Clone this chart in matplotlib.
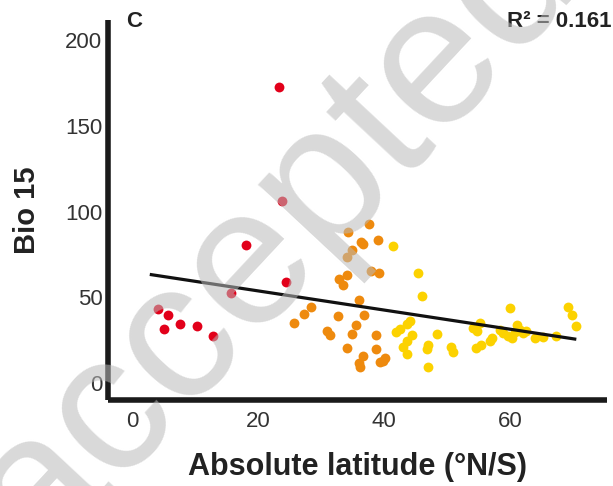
import matplotlib
matplotlib.use('Agg')
from matplotlib import pyplot as plt

# latitude / Bio 15, grouped by colour band
red_lat = [4.1, 5.7, 5.1, 7.7, 10.3, 12.9, 15.7, 18.2, 23.3, 23.8, 24.4]
red_val = [43.1, 39.4, 31.6, 34.5, 33.5, 27.1, 52.4, 80.3, 172.7, 106.0, 59.2]

orange_lat = [25.8, 27.3, 28.5, 30.9, 31.4, 32.7, 32.9, 33.5, 34.1, 34.2, 34.3, 35.0,
              36.3, 36.7, 37.6, 39.0, 38.0, 39.3, 36.0, 36.9, 35.6, 35.0, 34.2, 38.7,
              38.7, 36.7, 36.1, 36.2, 39.4, 40.2, 39.8]
orange_val = [34.9, 40.5, 44.6, 30.4, 28.1, 39.0, 60.6, 57.3, 63.2, 73.5, 88.3, 77.4,
              82.0, 81.1, 93.0, 83.2, 65.1, 63.9, 48.5, 39.8, 33.9, 28.8, 20.5, 28.1,
              19.5, 15.4, 11.5, 9.5, 11.9, 14.4, 13.0]

yellow_lat = [41.5, 45.4, 46.1, 44.1, 43.6, 42.0, 42.6, 44.4, 43.6, 43.1, 43.7, 48.5,
              47.0, 46.8, 47.0, 50.7, 51.0, 54.2, 54.8, 55.2, 54.7, 55.5, 56.8, 57.1,
              60.0, 58.4, 58.9, 59.7, 60.3, 61.1, 61.6, 62.1, 64.0, 65.3, 67.4, 69.3,
              69.8, 70.5, 60.8, 62.5]
yellow_val = [79.7, 63.9, 50.5, 36.4, 34.5, 30.0, 31.5, 28.1, 24.2, 20.8, 17.0, 28.4,
              22.2, 19.9, 9.5, 21.2, 18.3, 32.0, 30.5, 34.9, 20.3, 22.2, 24.2, 26.1,
              43.7, 31.0, 29.0, 27.1, 26.1, 33.9, 31.0, 29.0, 26.1, 26.7, 27.5, 44.3,
              39.8, 33.5, 30.0, 30.5]

# regression line end points
fit_lat = [3.1, 70.3]
fit_val = [63.2, 25.6]

x_ticks = [0, 20, 40, 60]
y_ticks = [0, 50, 100, 150, 200]

plt.rcParams['font.family'] = ['Liberation Sans', 'DejaVu Sans']

fig = plt.figure(figsize=(6.13, 4.86), dpi=100)
ax = fig.add_axes([0.176, 0.177, 0.814, 0.782])

ax.scatter(red_lat, red_val, s=50, color='#e2001a', linewidths=0, zorder=2)
ax.scatter(orange_lat, orange_val, s=50, color='#ee8a0e', linewidths=0, zorder=2)
ax.scatter(yellow_lat, yellow_val, s=50, color='#fcd200', linewidths=0, zorder=2)
ax.plot(fit_lat, fit_val, color='#111111', linewidth=2.3, zorder=3)

ax.set_xlim(-3.8, 75.4)
ax.set_ylim(-10, 212)
ax.set_xticks(x_ticks)
ax.set_yticks(y_ticks)
ax.tick_params(length=0, labelsize=16, labelcolor='#333333')
ax.tick_params(axis='x', pad=8)
ax.tick_params(axis='y', pad=4)

for side in ['top', 'right']:
    ax.spines[side].set_visible(False)
for side in ['left', 'bottom']:
    ax.spines[side].set_linewidth(4)
    ax.spines[side].set_color('#1a1a1a')
    ax.spines[side].set_capstyle('butt')

ax.set_xlabel('Absolute latitude (°N/S)', fontsize=22, fontweight='bold', color='#222222', labelpad=14)
ax.set_ylabel('Bio 15', fontsize=21, fontweight='bold', color='#222222', labelpad=17)

fig.text(0.205, 0.955, 'C', fontsize=16, fontweight='bold', color='#222222', va='center')
fig.text(0.998, 0.955, 'R² = 0.161', fontsize=16, fontweight='bold', color='#222222',
         va='center', ha='right')

# manuscript watermark drawn over everything
fig.text(0.449, 0.516, 'accepted', fontsize=142, color='#bababa', alpha=0.55,
         rotation=47, ha='center', va='center', zorder=10)

plt.savefig('out.png', dpi=100)
